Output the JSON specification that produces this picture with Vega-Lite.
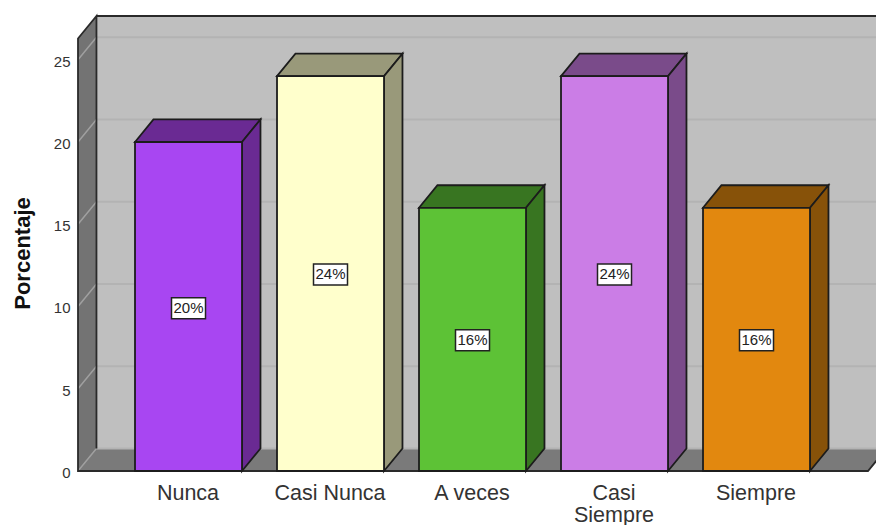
{"$schema":"https://vega.github.io/schema/vega-lite/v6.json","width":798,"height":461,"autosize":{"type":"none"},"padding":{"left":78,"top":10,"right":0,"bottom":54},"background":"white","config":{"view":{"stroke":null},"font":"Liberation Sans"},
"datasets":{"barras":[{"categoria":"Nunca","posicion":1,"porcentaje":20,"centro":9.9,"etiqueta":"20%"},{"categoria":"Casi Nunca","posicion":2,"porcentaje":24,"centro":11.95,"etiqueta":"24%"},{"categoria":"A veces","posicion":3,"porcentaje":16,"centro":7.95,"etiqueta":"16%"},{"categoria":"Casi Siempre","posicion":4,"porcentaje":24,"centro":11.95,"etiqueta":"24%"},{"categoria":"Siempre","posicion":5,"porcentaje":16,"centro":7.95,"etiqueta":"16%"}],
"caras":[
{"categoria":"Nunca","cara":"arriba","x":0.6232,"y":20,"y2":20},{"categoria":"Nunca","cara":"arriba","x":0.7532,"y":20,"y2":21.37},{"categoria":"Nunca","cara":"arriba","x":1.3768,"y":20,"y2":21.37},{"categoria":"Nunca","cara":"arriba","x":1.5068,"y":21.37,"y2":21.37},
{"categoria":"Nunca","cara":"lado","x":1.3768,"y":0,"y2":20},{"categoria":"Nunca","cara":"lado","x":1.5068,"y":1.37,"y2":21.37},
{"categoria":"Casi Nunca","cara":"arriba","x":1.6232,"y":24,"y2":24},{"categoria":"Casi Nunca","cara":"arriba","x":1.7532,"y":24,"y2":25.37},{"categoria":"Casi Nunca","cara":"arriba","x":2.3768,"y":24,"y2":25.37},{"categoria":"Casi Nunca","cara":"arriba","x":2.5068,"y":25.37,"y2":25.37},
{"categoria":"Casi Nunca","cara":"lado","x":2.3768,"y":0,"y2":24},{"categoria":"Casi Nunca","cara":"lado","x":2.5068,"y":1.37,"y2":25.37},
{"categoria":"A veces","cara":"arriba","x":2.6232,"y":16,"y2":16},{"categoria":"A veces","cara":"arriba","x":2.7532,"y":16,"y2":17.37},{"categoria":"A veces","cara":"arriba","x":3.3768,"y":16,"y2":17.37},{"categoria":"A veces","cara":"arriba","x":3.5068,"y":17.37,"y2":17.37},
{"categoria":"A veces","cara":"lado","x":3.3768,"y":0,"y2":16},{"categoria":"A veces","cara":"lado","x":3.5068,"y":1.37,"y2":17.37},
{"categoria":"Casi Siempre","cara":"arriba","x":3.6232,"y":24,"y2":24},{"categoria":"Casi Siempre","cara":"arriba","x":3.7532,"y":24,"y2":25.37},{"categoria":"Casi Siempre","cara":"arriba","x":4.3768,"y":24,"y2":25.37},{"categoria":"Casi Siempre","cara":"arriba","x":4.5068,"y":25.37,"y2":25.37},
{"categoria":"Casi Siempre","cara":"lado","x":4.3768,"y":0,"y2":24},{"categoria":"Casi Siempre","cara":"lado","x":4.5068,"y":1.37,"y2":25.37},
{"categoria":"Siempre","cara":"arriba","x":4.6232,"y":16,"y2":16},{"categoria":"Siempre","cara":"arriba","x":4.7532,"y":16,"y2":17.37},{"categoria":"Siempre","cara":"arriba","x":5.3768,"y":16,"y2":17.37},{"categoria":"Siempre","cara":"arriba","x":5.5068,"y":17.37,"y2":17.37},
{"categoria":"Siempre","cara":"lado","x":5.3768,"y":0,"y2":16},{"categoria":"Siempre","cara":"lado","x":5.5068,"y":1.37,"y2":17.37}]},
"layer":[
{"data":{"values":[{"x":0.3518,"y":1.37,"y2":27.66},{"x":5.915,"y":1.37,"y2":27.66}]},"mark":{"type":"area","fill":"#bfbfbf"},
"encoding":{"x":{"field":"x","type":"quantitative","scale":{"domain":[0.2218,5.8415],"nice":false,"zero":false,"padding":0},"axis":{"title":null,"values":[1,2,3,4,5],"labelExpr":"datum.value==1?'Nunca':datum.value==2?'Casi Nunca':datum.value==3?'A veces':datum.value==4?['Casi','Siempre']:'Siempre'","labelFontSize":21.5,"labelColor":"#333333","labelPadding":11,"labelLineHeight":22,"labelOffset":-1,"ticks":false,"domain":false,"grid":false,"labelOverlap":false,"labelFlush":false}},
"y":{"field":"y","type":"quantitative","scale":{"domain":[0,28.024],"nice":false,"zero":false,"padding":0},"axis":{"title":"Porcentaje","titleFontSize":22,"titleFontWeight":"bold","titleColor":"#111111","titleX":-44,"titleY":243,"values":[0,5,10,15,20,25],"labelFontSize":15,"labelColor":"#333333","labelPadding":8,"labelOffset":1.5,"ticks":false,"domain":false,"grid":false}},"y2":{"field":"y2"}}},
{"data":{"values":[{"x":0.2218,"y":0,"y2":0},{"x":0.3518,"y":0,"y2":1.37},{"x":5.785,"y":0,"y2":1.37},{"x":5.915,"y":1.37,"y2":1.37}]},"mark":{"type":"area","fill":"#7a7a7a"},
"encoding":{"x":{"field":"x","type":"quantitative","scale":{"domain":[0.2218,5.8415],"nice":false,"zero":false,"padding":0}},"y":{"field":"y","type":"quantitative","scale":{"domain":[0,28.024],"nice":false,"zero":false,"padding":0}},"y2":{"field":"y2"}}},
{"data":{"values":[{"x":0.2218,"y":0,"y2":26.29},{"x":0.3518,"y":1.37,"y2":27.66}]},"mark":{"type":"area","fill":"#737373"},
"encoding":{"x":{"field":"x","type":"quantitative","scale":{"domain":[0.2218,5.8415],"nice":false,"zero":false,"padding":0}},"y":{"field":"y","type":"quantitative","scale":{"domain":[0,28.024],"nice":false,"zero":false,"padding":0}},"y2":{"field":"y2"}}},
{"data":{"values":[{"nivel":0,"x":0.3518,"y":1.37},{"nivel":0,"x":5.915,"y":1.37},{"nivel":5,"x":0.3518,"y":6.37},{"nivel":5,"x":5.915,"y":6.37},{"nivel":10,"x":0.3518,"y":11.37},{"nivel":10,"x":5.915,"y":11.37},{"nivel":15,"x":0.3518,"y":16.37},{"nivel":15,"x":5.915,"y":16.37},{"nivel":20,"x":0.3518,"y":21.37},{"nivel":20,"x":5.915,"y":21.37},{"nivel":25,"x":0.3518,"y":26.37},{"nivel":25,"x":5.915,"y":26.37}]},"mark":{"type":"line","stroke":"#b3b3b3","strokeWidth":2},
"encoding":{"x":{"field":"x","type":"quantitative","scale":{"domain":[0.2218,5.8415],"nice":false,"zero":false,"padding":0}},"y":{"field":"y","type":"quantitative","scale":{"domain":[0,28.024],"nice":false,"zero":false,"padding":0}},"detail":{"field":"nivel"}}},
{"data":{"values":[{"nivel":0,"x":0.2218,"y":0},{"nivel":0,"x":0.3518,"y":1.37},{"nivel":5,"x":0.2218,"y":5},{"nivel":5,"x":0.3518,"y":6.37},{"nivel":10,"x":0.2218,"y":10},{"nivel":10,"x":0.3518,"y":11.37},{"nivel":15,"x":0.2218,"y":15},{"nivel":15,"x":0.3518,"y":16.37},{"nivel":20,"x":0.2218,"y":20},{"nivel":20,"x":0.3518,"y":21.37},{"nivel":25,"x":0.2218,"y":25},{"nivel":25,"x":0.3518,"y":26.37}]},"mark":{"type":"line","stroke":"#a0a0a0","strokeWidth":1.5},
"encoding":{"x":{"field":"x","type":"quantitative","scale":{"domain":[0.2218,5.8415],"nice":false,"zero":false,"padding":0}},"y":{"field":"y","type":"quantitative","scale":{"domain":[0,28.024],"nice":false,"zero":false,"padding":0}},"detail":{"field":"nivel"}}},
{"data":{"values":[{"trazo":"a","n":1,"x":5.915,"y":1.37},{"trazo":"a","n":2,"x":5.785,"y":0},{"trazo":"a","n":3,"x":0.2218,"y":0},{"trazo":"a","n":4,"x":0.2218,"y":26.29},{"trazo":"a","n":5,"x":0.3518,"y":27.66},{"trazo":"a","n":6,"x":0.3518,"y":1.37},{"trazo":"b","n":1,"x":0.3518,"y":27.66},{"trazo":"b","n":2,"x":5.915,"y":27.66}]},"mark":{"type":"line","stroke":"#2a2a2a","strokeWidth":1.8},
"encoding":{"x":{"field":"x","type":"quantitative","scale":{"domain":[0.2218,5.8415],"nice":false,"zero":false,"padding":0}},"y":{"field":"y","type":"quantitative","scale":{"domain":[0,28.024],"nice":false,"zero":false,"padding":0}},"detail":{"field":"trazo"},"order":{"field":"n","type":"quantitative"}}},
{"data":{"name":"caras"},"mark":{"type":"area","stroke":"#1c1c1c","strokeWidth":1.8},
"encoding":{"x":{"field":"x","type":"quantitative","scale":{"domain":[0.2218,5.8415],"nice":false,"zero":false,"padding":0}},"y":{"field":"y","type":"quantitative","scale":{"domain":[0,28.024],"nice":false,"zero":false,"padding":0}},"y2":{"field":"y2"},"detail":{"field":"cara"},"fill":{"field":"categoria","type":"nominal","legend":null,"scale":{"domain":["Nunca","Casi Nunca","A veces","Casi Siempre","Siempre"],"range":["#6a2a93","#99997a","#387521","#7a4b8a","#875209"]}}}},
{"data":{"name":"barras"},"mark":{"type":"bar","size":107,"orient":"vertical","stroke":"#1c1c1c","strokeWidth":1.8},
"encoding":{"x":{"field":"posicion","type":"quantitative","scale":{"domain":[0.2218,5.8415],"nice":false,"zero":false,"padding":0}},"y":{"field":"porcentaje","type":"quantitative","stack":null,"scale":{"domain":[0,28.024],"nice":false,"zero":false,"padding":0}},"fill":{"field":"categoria","type":"nominal","legend":null,"scale":{"domain":["Nunca","Casi Nunca","A veces","Casi Siempre","Siempre"],"range":["#a846f2","#ffffcc","#5dc236","#cb7de6","#e2880f"]}}}},
{"data":{"name":"barras"},"mark":{"type":"point","shape":"M-17,-10.5H17V10.5H-17Z","size":4,"filled":true,"fill":"white","stroke":"#222222","strokeWidth":1.5,"opacity":1},
"encoding":{"x":{"field":"posicion","type":"quantitative","scale":{"domain":[0.2218,5.8415],"nice":false,"zero":false,"padding":0}},"y":{"field":"centro","type":"quantitative","scale":{"domain":[0,28.024],"nice":false,"zero":false,"padding":0}}}},
{"data":{"name":"barras"},"mark":{"type":"text","fontSize":15,"fill":"#222222","baseline":"middle","align":"center"},
"encoding":{"x":{"field":"posicion","type":"quantitative","scale":{"domain":[0.2218,5.8415],"nice":false,"zero":false,"padding":0}},"y":{"field":"centro","type":"quantitative","scale":{"domain":[0,28.024],"nice":false,"zero":false,"padding":0}},"text":{"field":"etiqueta"}}}
],"resolve":{"scale":{"fill":"independent"}}}
